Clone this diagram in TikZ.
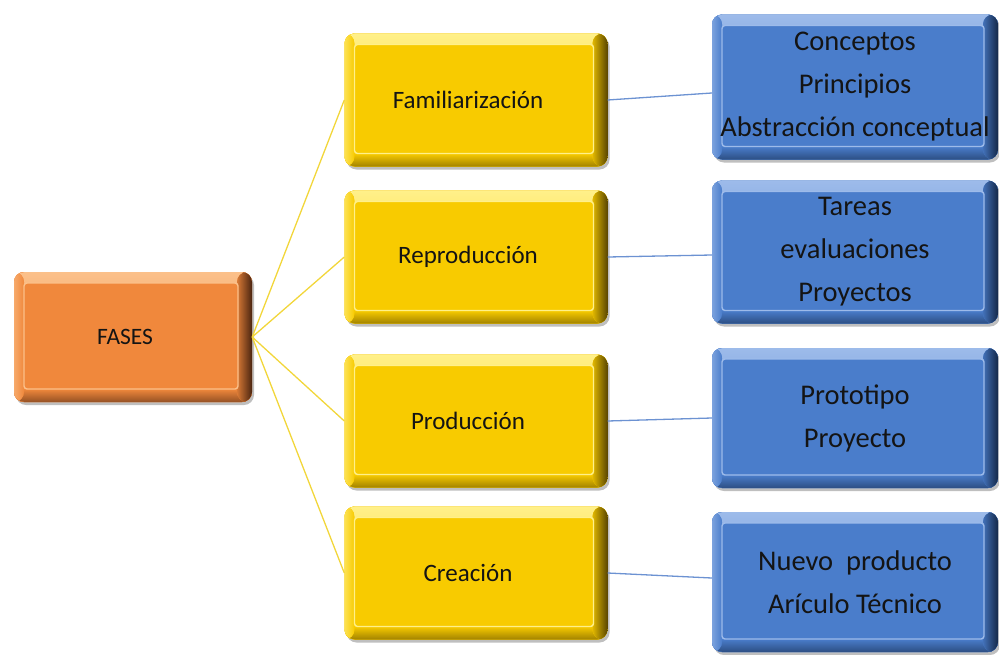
\documentclass[tikz,border=0pt]{standalone}
\usepackage{fontspec}
\setmainfont{Carlito}
\usetikzlibrary{shadows}
\definecolor{oLight}{HTML}{FBC08A}
\definecolor{oMain}{HTML}{F0883C}
\definecolor{oDark}{HTML}{4A2410}
\definecolor{yLight}{HTML}{FFF08A}
\definecolor{yMain}{HTML}{F8CB00}
\definecolor{yDark}{HTML}{5A4600}
\definecolor{bLight}{HTML}{9DBBEA}
\definecolor{bMain}{HTML}{4A7DCB}
\definecolor{bDark}{HTML}{142848}
\definecolor{yLine}{HTML}{F2D63A}
\definecolor{bLine}{HTML}{6C92D2}
\definecolor{txt}{HTML}{141414}
\newcommand{\lft}[1]{\hspace*{-16pt}#1}
\tikzset{
  bev/.style n args={3}{
    rectangle, rounded corners=10pt, fill=#2, text=txt, align=center,
    drop shadow={shadow xshift=2pt, shadow yshift=-3pt, opacity=0.25, fill=black},
    path picture={
      \fill[top color=#1, bottom color=#2] (path picture bounding box.north west) rectangle ([yshift=-12pt]path picture bounding box.north east);
      \fill[top color=#2, bottom color=#3!55!#2] ([yshift=13pt]path picture bounding box.south west) rectangle (path picture bounding box.south east);
      \fill[left color=#2!85!#3, right color=#3] ([xshift=-15pt]path picture bounding box.north east) rectangle (path picture bounding box.south east);
      \fill[left color=#1!60!#2, right color=#2] (path picture bounding box.north west) rectangle ([xshift=10pt]path picture bounding box.south west);
      \draw[#1, line width=1.4pt, fill=#2, rounded corners=3pt] ([xshift=10pt,yshift=-11pt]path picture bounding box.north west) rectangle ([xshift=-14pt,yshift=13pt]path picture bounding box.south east);
    }
  },
  fasesbox/.style={bev={oLight}{oMain}{oDark}, minimum width=238pt, minimum height=130pt, font=\fontsize{23.5}{28}\selectfont},
  phasebox/.style={bev={yLight}{yMain}{yDark}, minimum width=263pt, minimum height=133pt, font=\fontsize{25}{30}\selectfont},
  itembox/.style={bev={bLight}{bMain}{bDark}, minimum width=286pt, minimum height=142pt, font=\fontsize{28.5}{43}\selectfont},
  yconn/.style={draw=yLine, line width=1.3pt},
  bconn/.style={draw=bLine, line width=1.3pt},
}
\begin{document}
\begin{tikzpicture}[x=1pt, y=-1pt]
\useasboundingbox (0,0) rectangle (999,654);
\node[fasesbox] (fases) at (133,337) {\lft{FASES}};
\node[phasebox] (fam) at (476,100) {\lft{Familiarización}};
\node[phasebox] (rep) at (476,257) {\lft{Reproducción}};
\node[phasebox] (pro) at (476,421) {\lft{Producción}};
\node[phasebox] (cre) at (476,573) {\lft{Creación}};
\node[itembox, minimum height=145pt] (c1) at (855,87) {Conceptos\\Principios\\Abstracción conceptual};
\node[itembox, minimum height=143pt] (c2) at (855,252) {Tareas\\evaluaciones\\Proyectos};
\node[itembox, minimum height=140pt] (c3) at (855,418) {Prototipo\\Proyecto};
\node[itembox, minimum height=140pt] (c4) at (855,582) {Nuevo\ \ producto\\Arículo Técnico};
\foreach \t in {fam,rep,pro,cre} \draw[yconn] (fases.east) -- (\t.west);
\draw[bconn] (fam.east) -- ([yshift=-6pt]c1.west);
\draw[bconn] (rep.east) -- ([yshift=-3pt]c2.west);
\draw[bconn] (pro.east) -- (c3.west);
\draw[bconn] (cre.east) -- ([yshift=4pt]c4.west);
\end{tikzpicture}
\end{document}
